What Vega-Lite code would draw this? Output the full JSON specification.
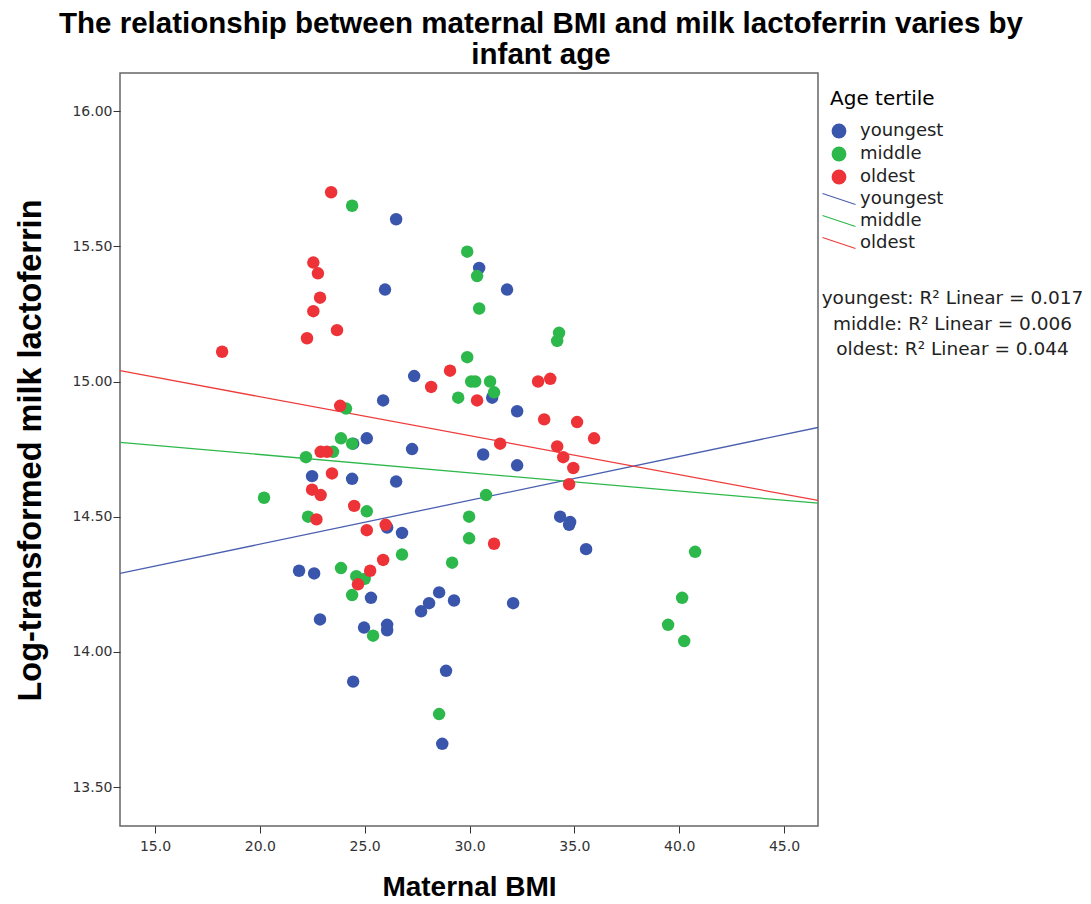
{
  "$schema": "https://vega.github.io/schema/vega-lite/v6.json",
  "width": 698,
  "height": 753,
  "autosize": {"type": "none"},
  "padding": {"left": 120, "top": 73, "right": 273, "bottom": 78},
  "background": "white",
  "title": {
    "text": ["The relationship between maternal BMI and milk lactoferrin varies by", "infant age"],
    "anchor": "middle",
    "dx": 72,
    "offset": 3,
    "font": "Liberation Sans",
    "fontSize": 29.5,
    "fontWeight": "bold",
    "lineHeight": 31,
    "color": "#000"
  },
  "config": {
    "view": {"fill": "#F0F0F0", "stroke": "#666666", "strokeWidth": 1.5},
    "axis": {
      "labelFont": "DejaVu Sans",
      "labelFontSize": 14,
      "labelColor": "#333333",
      "tickColor": "#333333",
      "tickSize": 7,
      "domain": false,
      "grid": false,
      "titleFont": "Liberation Sans",
      "titleFontSize": 28,
      "titleFontWeight": "bold",
      "titleColor": "#000"
    }
  },
  "datasets": {
    "points": [
      {"bmi": 26.5, "lf": 15.60, "age": "youngest"},
      {"bmi": 30.46, "lf": 15.42, "age": "youngest"},
      {"bmi": 31.79, "lf": 15.34, "age": "youngest"},
      {"bmi": 25.97, "lf": 15.34, "age": "youngest"},
      {"bmi": 27.36, "lf": 15.02, "age": "youngest"},
      {"bmi": 25.88, "lf": 14.93, "age": "youngest"},
      {"bmi": 31.08, "lf": 14.94, "age": "youngest"},
      {"bmi": 32.27, "lf": 14.89, "age": "youngest"},
      {"bmi": 25.1, "lf": 14.79, "age": "youngest"},
      {"bmi": 24.45, "lf": 14.77, "age": "youngest"},
      {"bmi": 22.49, "lf": 14.65, "age": "youngest"},
      {"bmi": 24.4, "lf": 14.64, "age": "youngest"},
      {"bmi": 21.87, "lf": 14.30, "age": "youngest"},
      {"bmi": 22.59, "lf": 14.29, "age": "youngest"},
      {"bmi": 22.87, "lf": 14.12, "age": "youngest"},
      {"bmi": 27.26, "lf": 14.75, "age": "youngest"},
      {"bmi": 30.65, "lf": 14.73, "age": "youngest"},
      {"bmi": 32.27, "lf": 14.69, "age": "youngest"},
      {"bmi": 26.5, "lf": 14.63, "age": "youngest"},
      {"bmi": 26.07, "lf": 14.46, "age": "youngest"},
      {"bmi": 26.78, "lf": 14.44, "age": "youngest"},
      {"bmi": 34.32, "lf": 14.50, "age": "youngest"},
      {"bmi": 34.8, "lf": 14.48, "age": "youngest"},
      {"bmi": 34.75, "lf": 14.47, "age": "youngest"},
      {"bmi": 35.56, "lf": 14.38, "age": "youngest"},
      {"bmi": 25.3, "lf": 14.20, "age": "youngest"},
      {"bmi": 28.55, "lf": 14.22, "age": "youngest"},
      {"bmi": 28.07, "lf": 14.18, "age": "youngest"},
      {"bmi": 27.69, "lf": 14.15, "age": "youngest"},
      {"bmi": 29.26, "lf": 14.19, "age": "youngest"},
      {"bmi": 32.08, "lf": 14.18, "age": "youngest"},
      {"bmi": 24.97, "lf": 14.09, "age": "youngest"},
      {"bmi": 26.07, "lf": 14.10, "age": "youngest"},
      {"bmi": 26.07, "lf": 14.08, "age": "youngest"},
      {"bmi": 28.88, "lf": 13.93, "age": "youngest"},
      {"bmi": 28.7, "lf": 13.66, "age": "youngest"},
      {"bmi": 24.45, "lf": 13.89, "age": "youngest"},
      {"bmi": 24.4, "lf": 15.65, "age": "middle"},
      {"bmi": 29.89, "lf": 15.48, "age": "middle"},
      {"bmi": 30.36, "lf": 15.39, "age": "middle"},
      {"bmi": 30.46, "lf": 15.27, "age": "middle"},
      {"bmi": 34.27, "lf": 15.18, "age": "middle"},
      {"bmi": 34.18, "lf": 15.15, "age": "middle"},
      {"bmi": 29.89, "lf": 15.09, "age": "middle"},
      {"bmi": 30.08, "lf": 15.00, "age": "middle"},
      {"bmi": 30.27, "lf": 15.00, "age": "middle"},
      {"bmi": 30.98, "lf": 15.00, "age": "middle"},
      {"bmi": 31.17, "lf": 14.96, "age": "middle"},
      {"bmi": 29.46, "lf": 14.94, "age": "middle"},
      {"bmi": 24.11, "lf": 14.90, "age": "middle"},
      {"bmi": 23.87, "lf": 14.79, "age": "middle"},
      {"bmi": 24.4, "lf": 14.77, "age": "middle"},
      {"bmi": 23.49, "lf": 14.74, "age": "middle"},
      {"bmi": 22.2, "lf": 14.72, "age": "middle"},
      {"bmi": 20.2, "lf": 14.57, "age": "middle"},
      {"bmi": 22.3, "lf": 14.50, "age": "middle"},
      {"bmi": 25.1, "lf": 14.52, "age": "middle"},
      {"bmi": 23.87, "lf": 14.31, "age": "middle"},
      {"bmi": 24.6, "lf": 14.28, "age": "middle"},
      {"bmi": 25.0, "lf": 14.27, "age": "middle"},
      {"bmi": 24.4, "lf": 14.21, "age": "middle"},
      {"bmi": 25.4, "lf": 14.06, "age": "middle"},
      {"bmi": 26.78, "lf": 14.36, "age": "middle"},
      {"bmi": 30.79, "lf": 14.58, "age": "middle"},
      {"bmi": 29.98, "lf": 14.50, "age": "middle"},
      {"bmi": 29.98, "lf": 14.42, "age": "middle"},
      {"bmi": 29.17, "lf": 14.33, "age": "middle"},
      {"bmi": 28.55, "lf": 13.77, "age": "middle"},
      {"bmi": 40.76, "lf": 14.37, "age": "middle"},
      {"bmi": 40.14, "lf": 14.20, "age": "middle"},
      {"bmi": 39.47, "lf": 14.10, "age": "middle"},
      {"bmi": 40.24, "lf": 14.04, "age": "middle"},
      {"bmi": 18.2, "lf": 15.11, "age": "oldest"},
      {"bmi": 23.4, "lf": 15.70, "age": "oldest"},
      {"bmi": 22.55, "lf": 15.44, "age": "oldest"},
      {"bmi": 22.77, "lf": 15.40, "age": "oldest"},
      {"bmi": 22.87, "lf": 15.31, "age": "oldest"},
      {"bmi": 22.55, "lf": 15.26, "age": "oldest"},
      {"bmi": 23.68, "lf": 15.19, "age": "oldest"},
      {"bmi": 22.25, "lf": 15.16, "age": "oldest"},
      {"bmi": 23.83, "lf": 14.91, "age": "oldest"},
      {"bmi": 22.9, "lf": 14.74, "age": "oldest"},
      {"bmi": 23.2, "lf": 14.74, "age": "oldest"},
      {"bmi": 23.44, "lf": 14.66, "age": "oldest"},
      {"bmi": 22.49, "lf": 14.60, "age": "oldest"},
      {"bmi": 22.9, "lf": 14.58, "age": "oldest"},
      {"bmi": 24.5, "lf": 14.54, "age": "oldest"},
      {"bmi": 22.7, "lf": 14.49, "age": "oldest"},
      {"bmi": 25.1, "lf": 14.45, "age": "oldest"},
      {"bmi": 26.0, "lf": 14.47, "age": "oldest"},
      {"bmi": 25.88, "lf": 14.34, "age": "oldest"},
      {"bmi": 25.26, "lf": 14.30, "age": "oldest"},
      {"bmi": 24.68, "lf": 14.25, "age": "oldest"},
      {"bmi": 30.36, "lf": 14.93, "age": "oldest"},
      {"bmi": 33.56, "lf": 14.86, "age": "oldest"},
      {"bmi": 35.13, "lf": 14.85, "age": "oldest"},
      {"bmi": 35.94, "lf": 14.79, "age": "oldest"},
      {"bmi": 31.46, "lf": 14.77, "age": "oldest"},
      {"bmi": 34.18, "lf": 14.76, "age": "oldest"},
      {"bmi": 34.47, "lf": 14.72, "age": "oldest"},
      {"bmi": 34.95, "lf": 14.68, "age": "oldest"},
      {"bmi": 34.75, "lf": 14.62, "age": "oldest"},
      {"bmi": 31.17, "lf": 14.40, "age": "oldest"},
      {"bmi": 29.07, "lf": 15.04, "age": "oldest"},
      {"bmi": 28.17, "lf": 14.98, "age": "oldest"},
      {"bmi": 33.27, "lf": 15.00, "age": "oldest"},
      {"bmi": 33.85, "lf": 15.01, "age": "oldest"}
    ],
    "fits": [
      {"bmi": 13.33, "lf": 14.29, "fit": "youngest line"},
      {"bmi": 46.62, "lf": 14.83, "fit": "youngest line"},
      {"bmi": 13.33, "lf": 14.775, "fit": "middle line"},
      {"bmi": 46.62, "lf": 14.55, "fit": "middle line"},
      {"bmi": 13.33, "lf": 15.04, "fit": "oldest line"},
      {"bmi": 46.62, "lf": 14.56, "fit": "oldest line"}
    ],
    "r2": [
      {"r2": "youngest: R² Linear = 0.017"},
      {"r2": "middle: R² Linear = 0.006"},
      {"r2": "oldest: R² Linear = 0.044"}
    ]
  },
  "layer": [
    {
      "data": {"name": "fits"},
      "mark": {"type": "line", "strokeWidth": 1.3, "clip": true},
      "encoding": {
        "x": {"field": "bmi", "type": "quantitative",
          "scale": {"domain": [13.33, 46.62], "nice": false, "zero": false},
          "axis": {"values": [15, 20, 25, 30, 35, 40, 45], "format": ".1f", "title": "Maternal BMI", "labelPadding": 6, "titleX": 349, "titleY": 69, "titleBaseline": "alphabetic"}},
        "y": {"field": "lf", "type": "quantitative",
          "scale": {"domain": [13.356, 16.141], "nice": false, "zero": false},
          "axis": {"values": [13.5, 14, 14.5, 15, 15.5, 16], "format": ".2f", "title": "Log-transformed milk lactoferrin", "labelPadding": 1, "titleX": -80, "titleY": 377, "titleBaseline": "alphabetic", "titleAngle": -90, "titleFontSize": 32.5}},
        "stroke": {"field": "fit", "type": "nominal",
          "scale": {"domain": ["youngest line", "middle line", "oldest line"], "range": ["#4A5FB0", "#2DB84B", "#EE3B3B"]},
          "legend": {"title": null, "orient": "none", "legendX": 707, "legendY": 114,
            "labelExpr": "split(datum.label, ' ')[0]",
            "symbolType": "M -1.5 -0.5 L 1.5 0.5", "symbolSize": 484, "symbolStrokeWidth": 1.3,
            "labelFont": "DejaVu Sans", "labelFontSize": 18, "labelColor": "#222", "labelOffset": 9, "rowPadding": 1}},
        "detail": {"field": "fit"}
      }
    },
    {
      "data": {"name": "points"},
      "mark": {"type": "point", "filled": true, "size": 155, "opacity": 1, "strokeWidth": 0},
      "encoding": {
        "x": {"field": "bmi", "type": "quantitative"},
        "y": {"field": "lf", "type": "quantitative"},
        "color": {"field": "age", "type": "nominal",
          "scale": {"domain": ["youngest", "middle", "oldest"], "range": ["#3A56AC", "#2DB84B", "#EE3338"]},
          "legend": {"title": "Age tertile", "orient": "none", "legendX": 710, "legendY": 16,
            "symbolType": "circle", "symbolSize": 220, "symbolStrokeWidth": 0, "symbolOpacity": 1,
            "titleFont": "DejaVu Sans", "titleFontSize": 20, "titleFontWeight": "normal", "titleColor": "#000", "titlePadding": 13,
            "labelFont": "DejaVu Sans", "labelFontSize": 18, "labelColor": "#222", "labelOffset": 12, "rowPadding": 5}}
      }
    },
    {
      "data": {"name": "r2"},
      "mark": {"type": "point", "opacity": 0},
      "encoding": {
        "shape": {"field": "r2", "type": "nominal",
          "scale": {"domain": ["youngest: R² Linear = 0.017", "middle: R² Linear = 0.006", "oldest: R² Linear = 0.044"]},
          "legend": {"title": null, "orient": "none", "legendX": 808, "legendY": 216,
            "symbolOpacity": 0, "symbolSize": 1, "labelAlign": "center", "labelLimit": 400,
            "labelFont": "DejaVu Sans", "labelFontSize": 18.5, "labelColor": "#222", "labelOffset": 6, "rowPadding": 6.5}}
      }
    }
  ]
}
